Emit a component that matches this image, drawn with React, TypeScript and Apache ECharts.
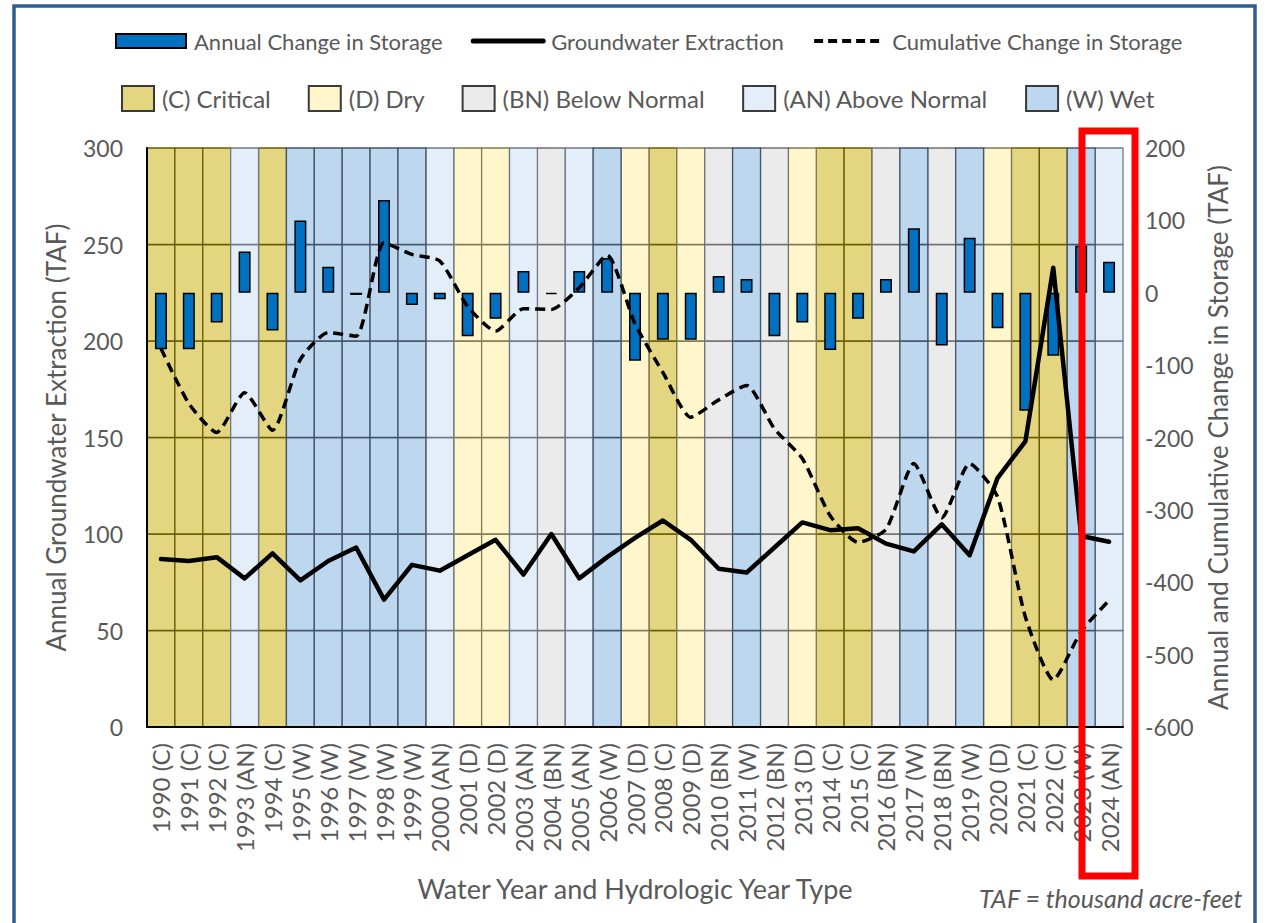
import React, { useEffect, useRef } from "react";
import * as echarts from "echarts";

const years = [
  "1990", "1991", "1992", "1993", "1994", "1995", "1996", "1997", "1998", "1999",
  "2000", "2001", "2002", "2003", "2004", "2005", "2006", "2007", "2008", "2009",
  "2010", "2011", "2012", "2013", "2014", "2015", "2016", "2017", "2018", "2019",
  "2020", "2021", "2022", "2023", "2024",
];
const yearTypes = [
  "C", "C", "C", "AN", "C", "W", "W", "W", "W", "W",
  "AN", "D", "D", "AN", "BN", "AN", "W", "D", "C", "D",
  "BN", "W", "BN", "D", "C", "C", "BN", "W", "BN", "W",
  "D", "C", "C", "W", "AN",
];
const annualChange = [
  -78, -78, -41, 57, -52, 100, 36, -3, 128, -17,
  -9, -60, -36, 30, -2, 30, 48, -94, -65, -65,
  23, 19, -60, -41, -79, -36, 19, 89, -73, 76,
  -49, -163, -87, 65, 43,
];
const groundwaterExtraction = [
  87, 86, 88, 77, 90, 76, 86, 93, 66, 84,
  81, 89, 97, 79, 100, 77, 88, 98, 107, 97,
  82, 80, 93, 106, 102, 103, 95, 91, 105, 89,
  129, 148, 238, 99, 96,
];
const cumulativeChange = [
  -77, -153, -193, -138, -190, -92, -55, -60, 69, 53,
  44, -19, -53, -22, -23, 7, 52, -43, -110, -172,
  -148, -128, -188, -229, -308, -345, -327, -236, -311, -236,
  -282, -448, -535, -468, -425,
];
const typeKeys = ["C", "D", "BN", "AN", "W"];
const typeNames = ["(C) Critical", "(D) Dry", "(BN) Below Normal", "(AN) Above Normal", "(W) Wet"];
const typeFill = ["#E4D680", "#FFF6CC", "#EBEBEB", "#E3EEF9", "#BDD7EE"];
const typeBorder = ["#6B5B00", "#7F7B55", "#717171", "#6E7A88", "#44546A"];
const leftTicks = { min: 0, max: 300, interval: 50 };
const rightTicks = { min: -600, max: 200, interval: 100 };

const FONT = "Lato";
const GRAY = "#595959";

export default function App() {
  const ref = useRef<HTMLDivElement>(null);
  useEffect(() => {
    if (!ref.current) return;
    const chart = echarts.init(ref.current, null, { renderer: "svg" });
    const categories = years.map((y, i) => `${y} (${yearTypes[i]})`);

    const bandSeries = typeKeys.map((key, t) => ({
      name: typeNames[t],
      type: "custom",
      xAxisIndex: 0,
      yAxisIndex: 0,
      z: 1,
      itemStyle: { color: typeFill[t], borderColor: "#3A3A3A", borderWidth: 1.3 },
      encode: { x: 0, y: 1 },
      data: yearTypes
        .map((yt, i) => (yt === key ? [i, leftTicks.max] : null))
        .filter((d) => d !== null),
      renderItem: (params: any, api: any) => {
        const idx = api.value(0);
        const w = api.size([1, 0])[0];
        const children: any[] = [];
        for (let k = 0; k < 6; k++) {
          const top = api.coord([idx, leftTicks.interval * (k + 1)]);
          const bot = api.coord([idx, leftTicks.interval * k]);
          children.push({
            type: "rect",
            shape: { x: top[0] - w / 2, y: top[1], width: w, height: bot[1] - top[1] },
            style: { fill: typeFill[t], stroke: typeBorder[t], lineWidth: 1.3 },
          });
        }
        return { type: "group", children };
      },
    }));

    const option: any = {
      animation: false,
      textStyle: { fontFamily: FONT },
      grid: { left: 147, right: 145, top: 148, bottom: 196, containLabel: false },
      legend: [
        {
          data: [
            { name: "Annual Change in Storage", icon: "rect" },
            {
              name: "Groundwater Extraction",
              itemStyle: { opacity: 0 },
              lineStyle: { width: 5, color: "#000" },
            },
            {
              name: "Cumulative Change in Storage",
              itemStyle: { opacity: 0 },
              lineStyle: { width: 4, color: "#000", type: [9, 5] },
            },
          ],
          top: 25,
          left: 110,
          itemWidth: 70,
          itemHeight: 14,
          itemGap: 28,
          textStyle: { fontSize: 22, color: GRAY, fontFamily: FONT, padding: [0, 0, 0, 3] },
        },
        {
          data: typeNames.map((n) => ({ name: n, icon: "rect" })),
          top: 80,
          left: 116,
          itemWidth: 32,
          itemHeight: 25,
          itemGap: 37,
          textStyle: { fontSize: 24, color: GRAY, fontFamily: FONT, padding: [0, 0, 0, 3] },
        },
      ],
      xAxis: {
        type: "category",
        data: categories,
        boundaryGap: true,
        axisLine: { show: true, lineStyle: { color: "#000", width: 2 } },
        axisTick: { show: false },
        axisLabel: { rotate: 90, fontSize: 24, color: GRAY, margin: 16, interval: 0, fontFamily: FONT },
        name: "Water Year and Hydrologic Year Type",
        nameLocation: "middle",
        nameGap: 148,
        nameTextStyle: { fontSize: 27, color: GRAY, fontFamily: FONT },
        z: 10,
      },
      yAxis: [
        {
          type: "value",
          min: leftTicks.min,
          max: leftTicks.max,
          interval: leftTicks.interval,
          position: "left",
          axisLine: { show: true, lineStyle: { color: "#000", width: 2 } },
          axisTick: { show: false },
          splitLine: { show: false },
          axisLabel: { fontSize: 23, color: GRAY, margin: 24, fontFamily: FONT },
          name: "Annual Groundwater Extraction (TAF)",
          nameLocation: "middle",
          nameGap: 78,
          nameTextStyle: { fontSize: 26, color: GRAY, fontFamily: FONT },
          z: 10,
        },
        {
          type: "value",
          min: rightTicks.min,
          max: rightTicks.max,
          interval: rightTicks.interval,
          position: "right",
          axisLine: { show: false },
          axisTick: { show: false },
          splitLine: { show: false },
          axisLabel: { fontSize: 23, color: GRAY, margin: 22, fontFamily: FONT },
          name: "Annual and Cumulative Change in Storage (TAF)",
          nameLocation: "middle",
          nameGap: 82,
          nameRotate: 90,
          nameTextStyle: { fontSize: 26, color: GRAY, fontFamily: FONT },
        },
      ],
      series: [
        ...bandSeries,
        {
          name: "Annual Change in Storage",
          type: "bar",
          yAxisIndex: 1,
          barWidth: 12,
          z: 3,
          itemStyle: { color: "#0070C0", borderColor: "#000", borderWidth: 1.5 },
          data: annualChange,
        },
        {
          name: "Groundwater Extraction",
          type: "line",
          yAxisIndex: 0,
          z: 5,
          symbol: "none",
          lineStyle: { color: "#000", width: 4.5, cap: "round", join: "round" },
          itemStyle: { color: "#000" },
          data: groundwaterExtraction,
        },
        {
          name: "Cumulative Change in Storage",
          type: "line",
          yAxisIndex: 1,
          z: 5,
          symbol: "none",
          smooth: 0.2,
          lineStyle: { color: "#000", width: 3.5, type: [10, 6] },
          itemStyle: { color: "#000" },
          data: cumulativeChange,
        },
      ],
      graphic: [
        {
          type: "rect",
          shape: { x: 14, y: 6, width: 1241, height: 1000 },
          style: { fill: "none", stroke: "#2F5D91", lineWidth: 3.5 },
          silent: true,
          z: 100,
        },
        {
          type: "rect",
          shape: { x: 1082, y: 131, width: 53, height: 745 },
          style: { fill: "none", stroke: "#FF0000", lineWidth: 7 },
          silent: true,
          z: 100,
        },
        {
          type: "text",
          right: 25,
          top: 885,
          style: {
            text: "TAF = thousand acre-feet",
            font: `italic 25px ${FONT}`,
            fill: GRAY,
          },
          z: 100,
        },
      ],
    };
    chart.setOption(option);
    return () => chart.dispose();
  }, []);
  return (
    <div
      ref={ref}
      style={{ position: "fixed", left: 0, top: 0, width: 1268, height: 923, background: "#fff" }}
    />
  );
}
